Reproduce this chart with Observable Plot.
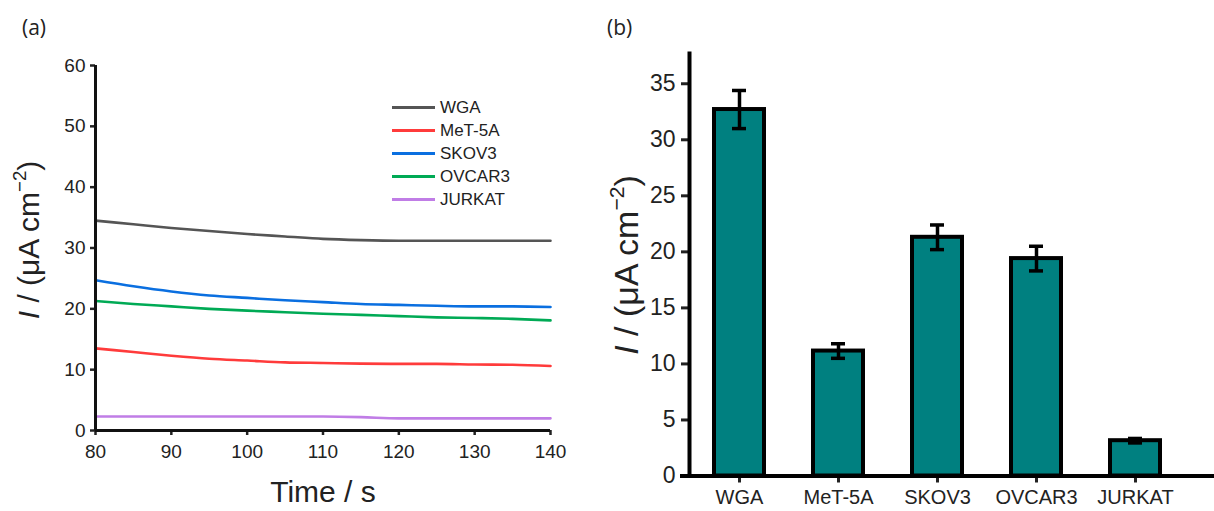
<!DOCTYPE html>
<html><head><meta charset="utf-8">
<script src="https://cdn.jsdelivr.net/npm/d3@7"></script>
<script src="https://cdn.jsdelivr.net/npm/@observablehq/plot@0.6"></script>
<style>
body{margin:0;background:#fff;}
#wrap{position:relative;width:1214px;height:511px;overflow:hidden;font-family:"Liberation Sans",Arial,sans-serif;background:#fff;}
.panel{position:absolute;top:0;}
.tag{position:absolute;top:17px;font-size:21px;line-height:1;color:#222;font-family:"Open Sans","Liberation Sans",sans-serif;}
.legend{position:absolute;left:392px;top:96px;font-size:17px;color:#222;}
.legend .row{display:flex;align-items:center;height:23px;}
.legend .sw{width:43px;height:3px;margin-right:5px;}
</style></head><body><div id="wrap"></div>
<script>
// ---- Panel (a): current vs time ----
const times = [80, 85, 90, 95, 100, 105, 110, 115, 120, 125, 130, 135, 140];
const wgaValues    = [34.5, 33.9, 33.3, 32.8, 32.3, 31.9, 31.5, 31.3, 31.2, 31.2, 31.2, 31.2, 31.2];
const met5aValues  = [13.5, 12.9, 12.3, 11.8, 11.5, 11.2, 11.1, 11.0, 10.95, 10.95, 10.85, 10.8, 10.6];
const skov3Values  = [24.7, 23.7, 22.85, 22.2, 21.8, 21.4, 21.1, 20.8, 20.65, 20.5, 20.4, 20.4, 20.3];
const ovcar3Values = [21.3, 20.8, 20.4, 20.0, 19.7, 19.45, 19.2, 19.0, 18.8, 18.6, 18.5, 18.35, 18.1];
const jurkatValues = [2.3, 2.3, 2.3, 2.3, 2.3, 2.3, 2.3, 2.2, 2.0, 2.0, 2.0, 2.0, 2.0];
const seriesNames  = ["WGA", "MeT-5A", "SKOV3", "OVCAR3", "JURKAT"];
const seriesColors = ["#555555", "#ff3b3b", "#0a6fe0", "#00aa55", "#c07de6"];
const xTicksA = [80, 90, 100, 110, 120, 130, 140];
const yTicksA = [0, 10, 20, 30, 40, 50, 60];

// ---- Panel (b): bar chart ----
const barCategories = ["WGA", "MeT-5A", "SKOV3", "OVCAR3", "JURKAT"];
const barMeans  = [32.7, 11.15, 21.3, 19.4, 3.15];
const barErrors = [1.7, 0.65, 1.1, 1.1, 0.2];
const yTicksB = [0, 5, 10, 15, 20, 25, 30, 35];

const FONT = '"Liberation Sans", Arial, sans-serif';
const wrap = document.getElementById("wrap");

const seriesValues = [wgaValues, met5aValues, skov3Values, ovcar3Values, jurkatValues];
const lineRows = [];
seriesNames.forEach((name, i) => times.forEach((t, j) => lineRows.push({series: name, t, v: seriesValues[i][j]})));

const plotA = Plot.plot({
  width: 600, height: 511,
  marginLeft: 95, marginRight: 50, marginTop: 65, marginBottom: 81,
  style: {fontFamily: FONT, fontSize: "19px", color: "#222", background: "transparent", overflow: "visible"},
  x: {domain: [80, 140]},
  y: {domain: [0, 60]},
  color: {domain: seriesNames, range: seriesColors},
  marks: [
    Plot.line(lineRows, {x: "t", y: "v", stroke: "series", z: "series", strokeWidth: 2.6, curve: "monotone-x"}),
    Plot.axisY({ticks: yTicksA, tickSize: 5, tickPadding: 5, tickFormat: d => d, label: null, fontSize: 19, strokeWidth: 2.5}),
    Plot.axisX({ticks: xTicksA, tickSize: 5, tickPadding: 9, tickFormat: d => d, label: null, fontSize: 19, strokeWidth: 2.5}),
    Plot.ruleX([80], {strokeWidth: 3, stroke: "#111"}),
    Plot.ruleY([0], {strokeWidth: 3, stroke: "#111"}),
    Plot.text(["Time / s"], {frameAnchor: "bottom", dy: 62, lineAnchor: "middle", fontSize: 30, fill: "#222"})
  ]
});
plotA.classList.add("panel");
plotA.style.left = "0px";
wrap.appendChild(plotA);

function addYLabel(svg, x, y, size) {
  const t = d3.select(svg).append("text")
    .attr("transform", `translate(${x},${y}) rotate(-90)`)
    .attr("text-anchor", "middle")
    .attr("font-family", FONT)
    .attr("font-size", size)
    .attr("fill", "#222");
  t.append("tspan").attr("font-style", "italic").text("I");
  t.append("tspan").text(" / (\u03BCA cm");
  t.append("tspan").attr("font-size", size * 0.62).attr("dy", -size * 0.42).text("\u22122");
  t.append("tspan").attr("dy", size * 0.42).text(")");
}
addYLabel(plotA, 39, 240, 30);

// legend for panel (a)
const legend = document.createElement("div");
legend.className = "legend";
seriesNames.forEach((name, i) => {
  const row = document.createElement("div");
  row.className = "row";
  const sw = document.createElement("div");
  sw.className = "sw";
  sw.style.background = seriesColors[i];
  const lab = document.createElement("span");
  lab.textContent = name;
  row.appendChild(sw); row.appendChild(lab);
  legend.appendChild(row);
});
wrap.appendChild(legend);

const barRows = barCategories.map((c, i) => ({cat: c, mean: barMeans[i], err: barErrors[i]}));
const plotB = Plot.plot({
  width: 614, height: 511,
  marginLeft: 89, marginRight: 30, marginTop: 53, marginBottom: 35.5,
  style: {fontFamily: FONT, fontSize: "20px", color: "#222", background: "transparent", overflow: "visible"},
  x: {domain: barCategories, paddingInner: 0.5, paddingOuter: 0.25},
  y: {domain: [0, 37.7]},
  marks: [
    Plot.barY(barRows, {x: "cat", y: "mean", fill: "#008080", stroke: "#000", strokeWidth: 4}),
    Plot.ruleX(barRows, {x: "cat", y1: d => d.mean - d.err, y2: d => d.mean + d.err, stroke: "#000", strokeWidth: 3.5}),
    Plot.tickY(barRows, {x: "cat", y: d => d.mean + d.err, stroke: "#000", strokeWidth: 3.5, insetLeft: 18, insetRight: 18}),
    Plot.tickY(barRows, {x: "cat", y: d => d.mean - d.err, stroke: "#000", strokeWidth: 3.5, insetLeft: 18, insetRight: 18}),
    Plot.axisY({ticks: yTicksB, tickSize: 8, tickPadding: 6, tickFormat: d => d, label: null, fontSize: 23, strokeWidth: 3}),
    Plot.axisX({tickSize: 7, tickPadding: 7, label: null, fontSize: 20, strokeWidth: 3}),
    Plot.ruleY([0], {stroke: "#000", strokeWidth: 4, insetLeft: -9, insetRight: -30}),
    Plot.frame({anchor: "left", stroke: "#000", strokeWidth: 4})
  ]
});
plotB.classList.add("panel");
plotB.style.left = "600px";
wrap.appendChild(plotB);
addYLabel(plotB, 38, 265, 34);

// panel tags
[["(a)", 22], ["(b)", 607]].forEach(([txt, left]) => {
  const d = document.createElement("div");
  d.className = "tag";
  d.style.left = left + "px";
  d.textContent = txt;
  wrap.appendChild(d);
});
</script>
</body></html>
